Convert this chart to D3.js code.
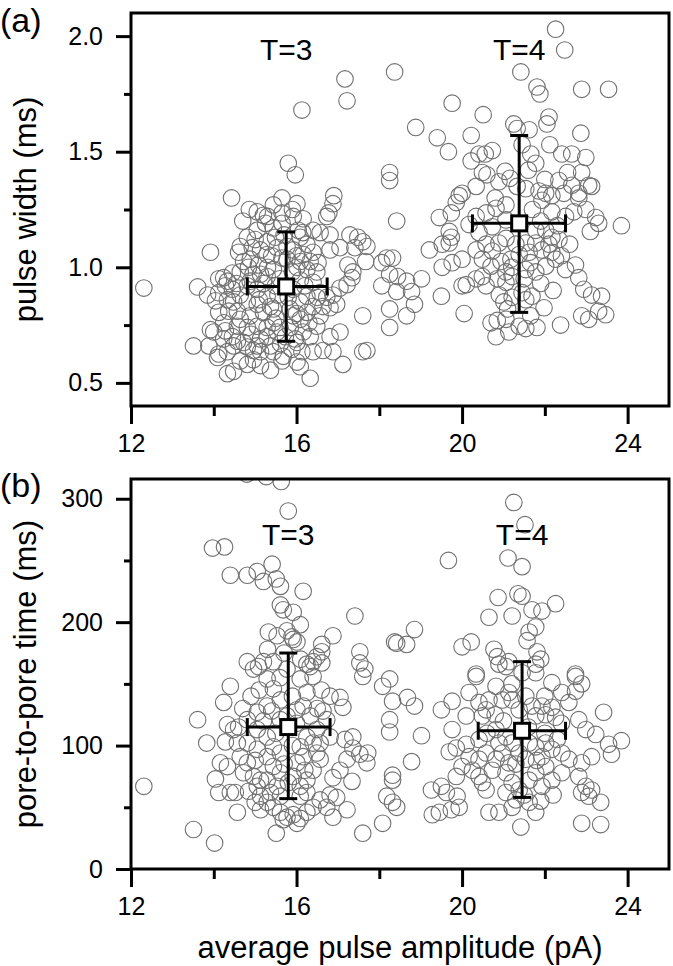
<!DOCTYPE html>
<html><head><meta charset="utf-8">
<script src="https://cdn.jsdelivr.net/npm/d3@7"></script>
<style>
body{margin:0;background:#fff}
svg{display:block}
text{font-family:"Liberation Sans",Arial,Helvetica,sans-serif;fill:#000}
</style>
</head><body>
<svg id="c" width="673" height="966"></svg>
<script>
// ---------- data ----------
const xMajor = [12, 16, 20, 24];
const xMinor = [14, 18, 22];
const yMajorA = [0.5, 1.0, 1.5, 2.0];
const yMinorA = [0.75, 1.25, 1.75];
const yMajorB = [0, 100, 200, 300];
const yMinorB = [50, 150, 250];
const groupLabels = ["T=3", "T=4"];

// (a) pulse width (ms) vs average pulse amplitude (pA)
const widthPts = [
[22.26,2.03],[22.48,1.94],[21.42,1.845],[21.81,1.78],[21.88,1.75],[22.89,1.77],[23.54,1.77],[18.37,1.845],[19.76,1.71],[20.51,1.66],
[18.88,1.605],[19.4,1.56],[20.22,1.57],[21.25,1.62],[21.33,1.60],[21.62,1.595],[22.1,1.65],[22.05,1.62],[22.87,1.58],[19.67,1.50],
[22.12,1.53],[22.41,1.49],[22.65,1.49],[22.99,1.475],[20.22,1.46],[20.41,1.49],[20.56,1.49],[20.73,1.505],[20.49,1.41],[21.66,1.49],
[21.78,1.45],[18.25,1.41],[21.04,1.415],[21.16,1.385],[20.89,1.37],[22.34,1.375],[22.55,1.41],[22.89,1.41],[23.06,1.355],[20.34,1.35],
[20.0,1.32],[21.33,1.35],[21.86,1.33],[22.02,1.32],[22.17,1.31],[22.46,1.32],[22.82,1.32],[21.45,1.53],
[17.17,1.815],[17.22,1.72],[16.13,1.68],[15.8,1.45],[15.97,1.40],
[14.43,1.30],[15.65,1.30],[16.01,1.275],[16.9,1.31],[16.88,1.275],[16.78,1.235],[16.73,1.22],[14.86,1.25],[15.05,1.24],[15.2,1.225],
[15.44,1.27],[15.65,1.235],[15.92,1.22],[16.16,1.21],[16.4,1.16],[16.57,1.15],[16.81,1.14],[17.29,1.14],[17.48,1.13],[17.6,1.11],
[17.7,1.09],[17.41,1.085],[17.05,1.085],[16.81,1.075],[17.67,1.025],[17.24,1.01],[17.36,0.98],[17.34,0.955],[17.22,0.925],[17.05,0.91],
[16.88,0.88],[16.97,0.84],[16.81,0.825],[17.6,0.79],[17.05,0.72],[16.81,0.70],[16.88,0.635],[17.12,0.58],[17.6,0.635],[17.7,0.64],
[16.33,0.52],[16.09,0.57],[15.37,0.555],[14.48,0.55],[14.33,0.54],[14.09,0.61],[13.51,0.66],[14.0,0.72],[14.24,0.76],[13.92,1.065],
[12.31,0.91],[13.61,0.915],[13.85,0.88],[14.04,0.855],[14.24,0.955],[14.33,0.94],[14.45,0.905],[14.48,0.85],[14.36,0.81],[14.28,0.725],
[14.45,0.70],[14.57,0.68],[14.81,0.655],[14.96,0.64],[14.81,0.58],[14.96,0.60],[15.13,0.635],[15.44,0.635],[15.68,0.615],[15.89,0.645],
[16.13,0.635],[16.01,0.675],[16.33,0.70],[16.49,0.745],[16.57,0.79],[16.64,0.83],[16.73,0.87],[16.57,0.89],[16.4,0.935],[16.49,0.98],
[16.52,1.02],[16.4,1.065],[16.25,1.10],[16.09,1.13],[16.04,1.16],[15.05,1.16],[14.81,1.13],[14.64,1.09],[14.6,1.065],[14.72,1.025],
[14.88,1.035],[15.08,1.01],[15.29,1.055],[15.29,1.11],[15.49,1.13],[15.44,1.17],[15.25,1.19],[15.65,1.19],[16.09,1.025],[16.01,1.0],
[16.25,0.99],[15.13,0.97],[15.29,0.96],[15.44,0.99],[14.88,0.94],[15.05,0.905],[14.64,0.88],[14.81,0.85],[15.05,0.84],[15.29,0.875],
[15.37,0.83],[15.2,0.805],[14.88,0.79],[14.64,0.775],[14.57,0.745],[14.81,0.74],[15.05,0.745],[15.29,0.74],[15.44,0.76],[15.53,0.72],
[15.29,0.70],[15.13,0.69],[16.16,0.72],[16.09,0.775],[16.25,0.805],[16.4,0.83],[16.09,0.85],[16.25,0.875],[15.92,0.905],[16.09,0.945],
[15.85,0.82],[15.92,0.79],[15.85,0.74],[15.73,0.70],[15.97,0.69],[15.61,0.67],[15.37,0.66],[15.05,0.66],[14.72,0.675],[14.48,0.66],
[14.24,0.69],[14.57,0.81],[14.81,0.92],[15.49,0.92],[15.44,0.82],[15.77,1.035],[15.77,1.09],[15.92,1.075],[15.65,1.04],[16.33,1.025],
[16.16,1.055],[15.53,1.085],[14.93,1.085],[15.13,1.075],[14.84,1.0],[14.64,0.98],[14.45,0.975],[14.12,0.95],[14.28,0.92],[14.12,0.89],
[14.33,0.86],[14.12,0.805],[13.92,0.73],[13.88,0.66],[14.12,0.625],[14.33,0.635],[16.4,0.635],[16.64,0.64],[16.01,0.59],[15.65,0.595],
[15.13,0.575],[14.64,0.595],
[15.2,0.93],[15.6,0.95],[15.9,0.98],[15.4,1.05],[15.0,1.12],[15.7,1.14],[16.2,0.92],[15.5,0.78],[15.1,0.86],[15.8,0.87],
[16.0,0.8],[15.3,1.0],[14.95,0.97],[15.55,0.88],[16.15,1.15],[15.9,1.25],[15.3,1.22],[14.7,1.2],[14.55,0.93],[16.5,0.87],
[16.3,0.76],[14.9,0.71],[15.6,0.74],[16.0,1.05],
[18.25,1.375],[18.42,1.20],[21.54,1.34],[22.65,1.355],[23.13,1.35],[22.82,1.30],[22.99,1.25],[23.23,1.215],[23.3,1.19],[23.1,1.155],
[23.85,1.18],[19.93,1.31],[19.86,1.28],[19.74,1.235],[19.45,1.215],[19.69,1.155],[19.74,1.13],[19.21,1.075],[19.52,1.10],[19.69,1.105],
[20.17,1.185],[20.34,1.22],[20.58,1.235],[20.82,1.255],[21.06,1.27],[20.41,1.15],[20.34,1.075],[20.58,1.10],[20.73,1.07],[20.89,1.105],
[21.06,1.125],[20.49,1.035],[20.7,1.005],[20.94,1.025],[21.18,1.035],[21.06,0.98],[20.85,0.95],[20.49,0.96],[20.34,0.95],[20.1,0.925],
[20.0,0.92],[20.58,0.92],[21.06,0.935],[21.21,0.96],[21.54,0.99],[21.78,0.98],[22.02,1.005],[22.26,1.035],[22.5,0.99],[22.74,1.01],
[22.82,0.955],[22.94,0.905],[23.13,0.88],[23.37,0.875],[23.47,0.795],[23.3,0.81],[23.06,0.775],[22.89,0.79],[22.38,0.75],[21.81,0.74],
[21.54,0.735],[21.13,0.72],[20.82,0.70],[20.7,0.76],[20.85,0.77],[21.06,0.775],[21.38,0.745],[21.66,0.79],[21.98,0.825],[21.54,0.86],
[21.69,0.875],[21.45,0.89],[21.21,0.87],[21.01,0.85],[20.05,0.80],[19.5,0.875],[19.02,0.95],[18.66,0.94],[18.44,0.96],[18.25,0.97],
[18.18,1.04],[18.32,1.04],[18.06,1.02],[18.06,0.92],[18.42,0.895],[18.78,0.895],[18.85,0.84],[18.66,0.79],[18.25,0.82],[18.25,0.74],
[22.34,1.12],[22.17,1.065],[21.93,1.075],[21.78,1.16],[22.02,1.16],[22.17,1.13],[21.78,1.105],[21.54,1.105],[21.62,1.065],[21.38,1.055],
[20.0,1.035],[19.76,1.02],[19.52,1.0],[22.5,1.22],[22.7,1.24],[22.17,1.24],[21.93,1.29],[21.06,1.205],[20.73,1.175],
[21.3,1.1],[21.9,1.2],[22.3,1.18],[21.7,1.25],[22.1,1.1],[21.5,0.95],[21.9,0.93],[22.2,0.9],[21.2,1.0],[21.65,1.02],
[22.4,1.05],[20.9,0.88],[22.6,1.1],[21.1,0.82],[22.0,1.38],[21.6,1.42],[20.8,1.3],[20.6,1.4]
];

// (b) pore-to-pore time (ms) vs average pulse amplitude (pA)
const porePts = [
[14.8,320],[15.27,318],[15.63,314],[15.8,290],[13.97,260],[14.26,261],[14.4,238],[14.81,238],[15.05,241],[15.41,247],
[15.2,233],[15.51,235],[15.61,229],[16.16,225],[15.61,214],[15.68,210],[15.92,208],[16.09,198],[17.41,205],[15.32,192],
[15.53,189],[15.77,193],[15.92,186],[16.01,184],[15.89,188],[16.88,189],[16.61,182],[16.61,176],[16.49,172],[17.53,176],
[17.65,162],[18.37,184],[14.81,168],[14.96,162],[15.08,164],[15.2,168],[15.44,168],[16.25,166],[16.4,168],[18.25,154],
[21.25,297],[21.52,279],[19.67,250],[21.11,252],[21.45,245],[20.87,220],[21.35,223],[21.45,221],[21.69,210],[21.93,209],
[22.26,215],[20.65,204],[21.21,205],[21.78,196],[21.62,192],[21.57,185],[18.85,194],[18.42,183],[18.66,182],[20.0,180],
[20.22,184],[20.77,178],[20.85,172],[21.13,168],[21.06,164],[21.81,176],[21.9,170],[21.78,166],[22.74,158],[20.34,158],
[13.61,121],[13.83,102],[12.31,67],[13.51,32],[14.02,21],[14.04,73],[14.12,62],[14.4,62],[14.52,62],[14.57,46],
[15.51,29],[14.4,148],[14.24,135],[14.33,117],[14.48,113],[14.28,103],[14.16,86],[14.33,83],[14.64,91],[14.81,86],
[14.72,78],[14.96,75],[15.05,67],[14.84,63],[15.13,59],[15.0,54],[15.29,54],[15.44,50],[15.61,46],[15.77,42],
[15.92,44],[16.09,41],[16.25,46],[16.4,50],[16.57,56],[16.81,60],[16.97,58],[17.22,48],[16.88,42],[17.6,29],
[16.73,50],[16.88,74],[17.34,71],[17.05,80],[17.22,89],[17.7,86],[17.72,94],[17.53,93],[17.36,98],[17.17,105],
[17.36,107],[17.12,131],[17.05,139],[16.81,140],[16.64,128],[16.49,113],[16.4,102],[16.49,94],[16.57,89],[16.4,80],
[16.25,72],[16.09,67],[15.92,75],[16.01,86],[16.16,91],[16.09,99],[16.25,107],[16.33,124],[16.16,132],[16.25,143],
[16.09,154],[16.4,156],[16.33,164],[16.61,167],[17.53,167],[17.6,156],[15.29,154],[15.44,146],[15.61,137],[15.29,132],
[15.05,127],[14.81,121],[15.05,113],[15.29,107],[15.44,99],[15.61,94],[15.29,91],[15.05,97],[14.81,102],[14.57,102],
[15.44,83],[15.61,78],[15.29,72],[15.53,67],[16.09,59],[16.25,62],[15.61,59],[15.37,62],[15.13,48],[15.68,40],
[16.01,37],[15.13,72],[15.77,162],[16.01,129],[15.77,124],[15.61,121],[16.73,121],[16.81,107],[16.57,102],[18.08,148],
[18.32,136],[18.25,121],[18.25,111],[18.32,76],[18.32,72],[18.18,59],[18.32,54],[18.08,37],
[15.5,110],[15.9,100],[15.2,120],[15.7,85],[16.0,118],[15.4,128],[15.0,88],[16.2,80],[15.8,70],[14.9,140],
[15.6,155],[15.9,140],[14.7,130],[16.5,130],[15.3,178],[15.7,175],[16.1,170],[15.1,145],[14.6,115],[16.6,145],
[18.68,139],[18.85,132],[19.02,108],[18.78,87],[18.42,50],
[19.26,64],[19.5,67],[19.62,62],[19.45,46],[19.74,48],[19.88,59],[19.5,129],[19.76,136],[20.17,143],[20.34,156],
[20.1,124],[19.76,113],[19.69,95],[19.86,98],[20.1,101],[20.17,91],[20.0,83],[19.86,75],[20.25,80],[20.41,75],
[20.49,70],[20.58,64],[20.41,89],[20.58,94],[20.41,105],[20.49,124],[20.58,129],[20.41,135],[20.82,148],[20.89,166],
[21.13,143],[21.21,137],[20.97,137],[20.82,113],[20.89,102],[20.97,94],[20.82,89],[20.73,80],[21.06,78],[21.13,86],
[21.21,70],[21.06,62],[21.3,56],[21.21,50],[20.65,46],[20.89,46],[21.42,34],[21.78,46],[21.62,54],[21.62,72],
[21.78,78],[22.02,83],[21.93,67],[22.17,72],[22.41,78],[22.58,89],[22.41,94],[22.17,97],[21.93,91],[21.78,99],
[22.02,102],[21.62,102],[21.78,124],[22.02,125],[22.26,123],[22.17,131],[21.93,132],[21.69,132],[21.54,140],[21.45,159],
[21.78,159],[22.17,151],[22.41,143],[22.74,156],[22.89,150],[22.74,144],[22.58,135],[22.82,121],[22.99,113],[23.23,109],
[23.42,127],[23.85,104],[23.54,101],[23.61,93],[23.13,91],[22.89,86],[22.82,75],[22.99,67],[23.13,64],[22.89,62],
[23.06,59],[23.35,54],[22.89,37],[23.35,36],[19.93,50],[19.28,44],[21.38,64],[21.54,89],[21.38,94],[21.21,102],
[21.06,107],[21.38,129],[20.65,137],
[21.0,120],[21.6,115],[22.0,110],[22.4,118],[21.3,85],[21.8,88],[22.2,60],[21.5,60],[20.8,125],[22.3,105],
[21.2,150],[22.0,140],[20.6,110],[21.9,55]
];

// group means with error bars (x: amplitude, y: value)
const meansA = [
  {x:15.75, y:0.917, xlo:14.81, xhi:16.74, ylo:0.68, yhi:1.153},
  {x:21.38, y:1.19,  xlo:20.25, xhi:22.50, ylo:0.805, yhi:1.57}
];
const meansB = [
  {x:15.80, y:115, xlo:14.81, xhi:16.81, ylo:57, yhi:175},
  {x:21.45, y:112, xlo:20.39, xhi:22.50, ylo:58, yhi:168}
];

// ---------- drawing ----------
const svg = d3.select("#c");
const L = 131, R = 669;
const x = d3.scaleLinear().domain([12, 25]).range([L, R]);

const panels = [
  {pts: widthPts, means: meansA, domain:[0.4, 2.1], range:[406, 13], major:yMajorA, minor:yMinorA,
   fmt: d3.format(".1f"), title:"pulse width (ms)", tag:"(a)", tagY:32, labelY:60},
  {pts: porePts, means: meansB, domain:[0, 316], range:[869, 479], major:yMajorB, minor:yMinorB,
   fmt: d3.format("d"), title:"pore-to-pore time (ms)", tag:"(b)", tagY:497, labelY:545}
];

const defs = svg.append("defs");

panels.forEach((p, i) => {
  const y = d3.scaleLinear().domain(p.domain).range(p.range);
  const top = p.range[1], bot = p.range[0];
  const g = svg.append("g");

  defs.append("clipPath").attr("id", "clip" + i)
    .append("rect").attr("x", L).attr("y", top).attr("width", R - L).attr("height", bot - top);

  // scatter
  g.append("g").attr("clip-path", `url(#clip${i})`)
    .selectAll("circle").data(p.pts).join("circle")
    .attr("cx", d => x(d[0])).attr("cy", d => y(d[1])).attr("r", 8.3)
    .attr("fill", "none").attr("stroke", "#707070").attr("stroke-width", 1.1);

  // error bars
  const eb = g.append("g").attr("stroke", "#000").attr("stroke-width", 3);
  const cap = 9;
  p.means.forEach(m => {
    const cx = x(m.x), cy = y(m.y);
    eb.append("line").attr("x1", x(m.xlo)).attr("x2", x(m.xhi)).attr("y1", cy).attr("y2", cy);
    eb.append("line").attr("x1", cx).attr("x2", cx).attr("y1", y(m.ylo)).attr("y2", y(m.yhi));
    [m.xlo, m.xhi].forEach(v => eb.append("line").attr("x1", x(v)).attr("x2", x(v)).attr("y1", cy - cap).attr("y2", cy + cap));
    [m.ylo, m.yhi].forEach(v => eb.append("line").attr("x1", cx - cap).attr("x2", cx + cap).attr("y1", y(v)).attr("y2", y(v)));
    eb.append("rect").attr("x", cx - 7.5).attr("y", cy - 7.5).attr("width", 15).attr("height", 15).attr("fill", "#fff");
  });

  // group labels
  p.means.forEach((m, k) => {
    g.append("text").attr("x", x(m.x)).attr("y", p.labelY).attr("text-anchor", "middle")
      .attr("font-size", 30).text(groupLabels[k]);
  });

  // frame
  g.append("rect").attr("x", L).attr("y", top).attr("width", R - L).attr("height", bot - top)
    .attr("fill", "none").attr("stroke", "#000").attr("stroke-width", 3);

  const style = sel => {
    sel.select(".domain").remove();
    sel.selectAll(".tick line").attr("stroke", "#000").attr("stroke-width", 3);
    sel.selectAll(".tick text").attr("font-size", 25).attr("font-family", '"Liberation Sans",Arial,sans-serif').attr("fill", "#000");
  };

  g.append("g").attr("transform", `translate(${L},0)`)
    .call(d3.axisLeft(y).tickValues(p.major).tickSize(15).tickPadding(13).tickFormat(p.fmt)).call(style);
  g.append("g").attr("transform", `translate(${L},0)`)
    .call(d3.axisLeft(y).tickValues(p.minor).tickSize(7).tickFormat("")).call(style);
  g.append("g").attr("transform", `translate(0,${bot})`)
    .call(d3.axisBottom(x).tickValues(xMajor).tickSize(18).tickPadding(10).tickFormat(d3.format("d"))).call(style);
  g.append("g").attr("transform", `translate(0,${bot})`)
    .call(d3.axisBottom(x).tickValues(xMinor).tickSize(10).tickFormat("")).call(style);

  // y title
  svg.append("text").attr("transform", `translate(25,${(top + bot) / 2}) rotate(-90)`)
    .attr("dy", "0.35em").attr("text-anchor", "middle").attr("font-size", 31).text(p.title);

  // panel tag
  svg.append("text").attr("x", 0).attr("y", p.tagY).attr("font-size", 34).text(p.tag);
});

svg.append("text").attr("x", (L + R) / 2).attr("y", 958).attr("text-anchor", "middle")
  .attr("font-size", 31).text("average pulse amplitude (pA)");
</script>
</body></html>
